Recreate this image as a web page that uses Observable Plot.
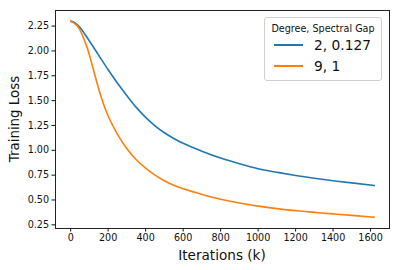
<!DOCTYPE html>
<html>
<head>
<meta charset="utf-8">
<script src="https://cdn.jsdelivr.net/npm/d3@7"></script>
<script src="https://cdn.jsdelivr.net/npm/@observablehq/plot@0.6"></script>
<style>
  html, body { margin: 0; padding: 0; background: #fff; }
  #wrap { position: relative; width: 400px; height: 270px; font-family: "DejaVu Sans", sans-serif; }
  #legend { position: absolute; left: 264px; top: 17px; width: 118px; height: 64px; border: 1px solid #d0d0d0; border-radius: 3px; background: rgba(255,255,255,0.8); box-sizing: border-box; }
  #legend .title { position: absolute; left: 0; width: 100%; top: 5px; text-align: center; font-size: 9.6px; color: #111; }
  #legend .entry { position: absolute; left: 9px; font-size: 13.8px; color: #111; display: flex; align-items: center; }
  #legend .swatch { width: 29px; height: 0; border-top: 2px solid; margin-right: 11px; }
</style>
</head>
<body>
<div id="wrap"></div>
<script>
const iterations = [0, 25, 50, 75, 100, 150, 200, 250, 300, 350, 400, 450, 500, 550, 600, 700, 800, 900, 1000, 1100, 1200, 1300, 1400, 1500, 1620];
const lossDeg2 = [2.30, 2.28, 2.235, 2.17, 2.10, 1.955, 1.81, 1.675, 1.55, 1.432, 1.332, 1.247, 1.177, 1.119, 1.07, 0.991, 0.922, 0.865, 0.815, 0.779, 0.747, 0.719, 0.694, 0.672, 0.645];
const lossDeg9 = [2.30, 2.27, 2.21, 2.10, 1.96, 1.615, 1.345, 1.16, 1.015, 0.905, 0.82, 0.75, 0.694, 0.648, 0.612, 0.556, 0.508, 0.47, 0.438, 0.413, 0.393, 0.375, 0.36, 0.345, 0.327];
const seriesNames = ["2, 0.127", "9, 1"];
const seriesColors = ["#1f77b4", "#ff7f0e"];
const legendTitle = "Degree, Spectral Gap";
const xTicks = [0, 200, 400, 600, 800, 1000, 1200, 1400, 1600];
const yTicks = [0.25, 0.5, 0.75, 1.0, 1.25, 1.5, 1.75, 2.0, 2.25];

const data = [];
iterations.forEach((x, i) => {
  data.push({x, y: lossDeg2[i], s: seriesNames[0]});
  data.push({x, y: lossDeg9[i], s: seriesNames[1]});
});

const chart = Plot.plot({
  width: 400,
  height: 270,
  marginLeft: 55,
  marginRight: 11,
  marginTop: 10,
  marginBottom: 42,
  style: { fontFamily: "DejaVu Sans, sans-serif", fontSize: "9.6px", color: "#111", background: "#fff" },
  x: { domain: [-81, 1701] },
  y: { domain: [0.213, 2.407] },
  color: { domain: seriesNames, range: seriesColors },
  marks: [
    Plot.axisX({ ticks: xTicks, tickSize: 3.5, tickPadding: 2, tickFormat: d3.format("d"), label: null }),
    Plot.axisY({ ticks: yTicks, tickSize: 3.5, tickPadding: 3, tickFormat: d3.format(".2f"), label: null }),
    Plot.line(data, { x: "x", y: "y", stroke: "s", z: "s", strokeWidth: 1.6, curve: "natural" }),
    Plot.frame({ stroke: "#222", strokeWidth: 1 })
  ]
});

const wrap = document.getElementById("wrap");
wrap.appendChild(chart);

const svg = d3.select(chart);
svg.append("text")
  .attr("x", (55 + 389) / 2).attr("y", 259.5)
  .attr("text-anchor", "middle")
  .style("font-size", "13.6px").style("fill", "#111")
  .text("Iterations (k)");
svg.append("text")
  .attr("transform", `translate(18.5, ${(10 + 228) / 2}) rotate(-90)`)
  .attr("text-anchor", "middle")
  .style("font-size", "13.4px").style("fill", "#111")
  .text("Training Loss");

const leg = document.createElement("div");
leg.id = "legend";
const t = document.createElement("div");
t.className = "title";
t.textContent = legendTitle;
leg.appendChild(t);
seriesNames.forEach((name, i) => {
  const e = document.createElement("div");
  e.className = "entry";
  e.style.top = (19 + i * 20.5) + "px";
  const sw = document.createElement("span");
  sw.className = "swatch";
  sw.style.borderTopColor = seriesColors[i];
  const lab = document.createElement("span");
  lab.textContent = name;
  e.appendChild(sw);
  e.appendChild(lab);
  leg.appendChild(e);
});
wrap.appendChild(leg);
</script>
</body>
</html>
